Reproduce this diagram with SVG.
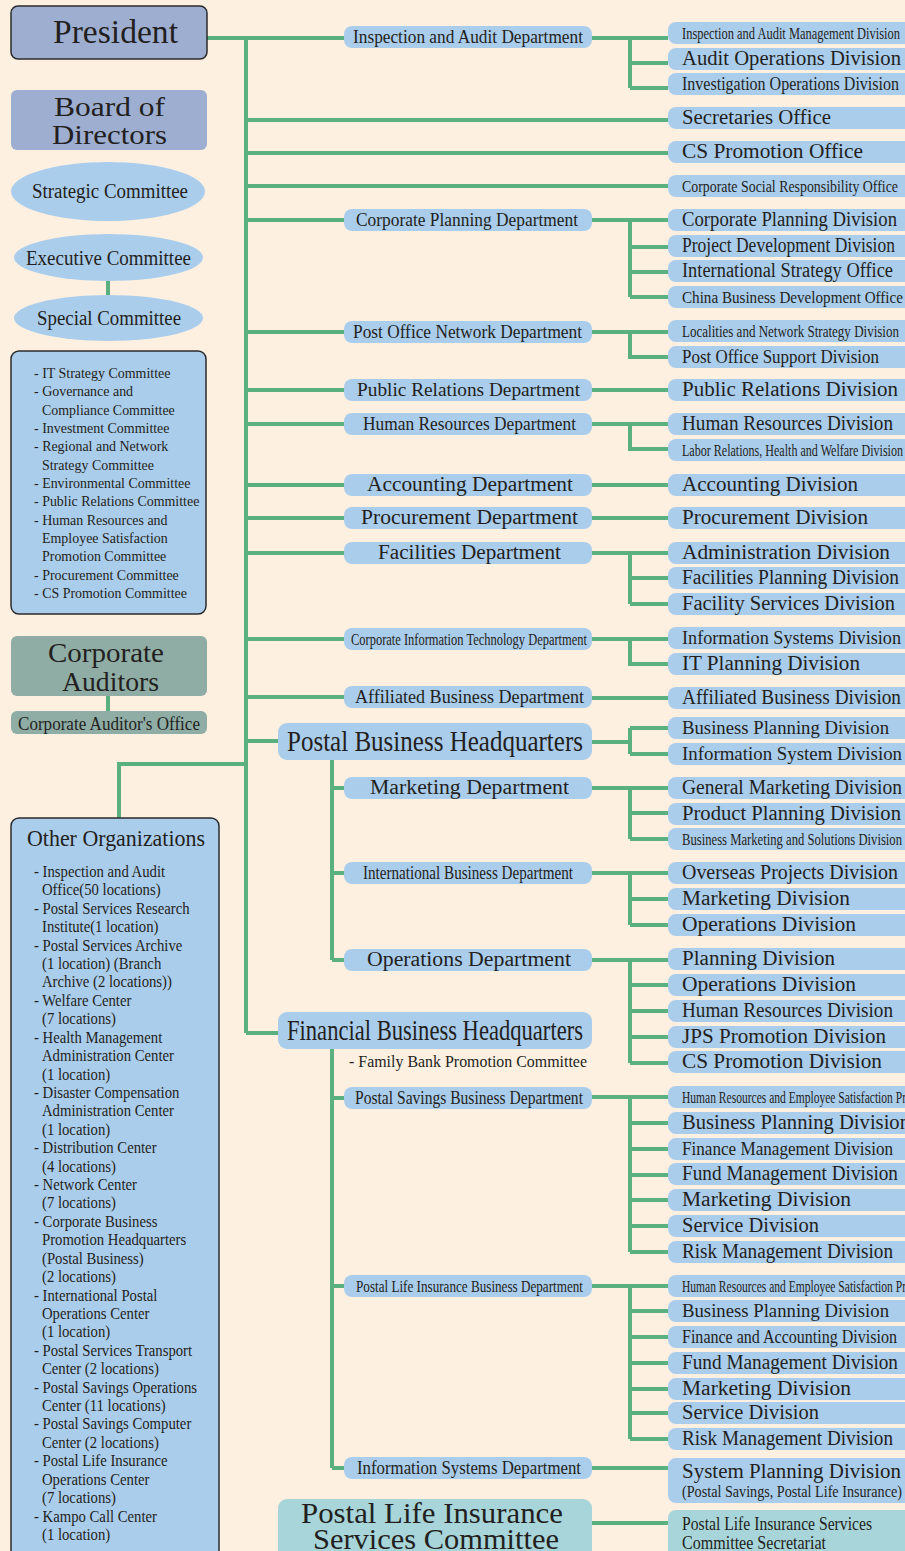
<svg xmlns="http://www.w3.org/2000/svg" xmlns:xlink="http://www.w3.org/1999/xlink" width="905" height="1551" viewBox="0 0 905 1551">
<style>
text{font-family:"Liberation Serif","DejaVu Serif",serif;fill:#231f20}
.ln{stroke:#5bb07f;stroke-width:4;fill:none}
.bx{fill:#abcdec}
.dv{fill:#abcdec}
.pv{fill:#9eaed0}
.au{fill:#8fada5}
.tl{fill:#a8d5d9}
.sk{stroke:#2b2b2b;stroke-width:1.5}
.d{font-size:19px}
.v{font-size:20px}
.s{font-size:17px}
.h{font-size:28px}
.li{font-size:15.5px}
.lo{font-size:16px}
</style>
<defs>
<path id="dvb" d="M676,0H905V22H676A8,8 0 0 1 668,14V8A8,8 0 0 1 676,0Z"/>
</defs>
<rect x="0" y="0" width="905" height="1551" fill="#fdf0e1"/>

<g id="connectors">
<path class="ln" d="M207,38H344M246,38V1033M246,120H668M246,153H668M246,186H668M246,220H344M246,332H344M246,390H344M246,424H344M246,485H344M246,518H344M246,553H344M246,639H344M246,697H344M246,741H278M246,1033H278M246,764H119V818"/>
<path class="ln" d="M108,281V295M108,696V711"/>
<path class="ln" d="M592,38H668M630,38V88M630,63H668M630,88H668"/>
<path class="ln" d="M592,220H668M630,220V297M630,247H668M630,272H668M630,297H668"/>
<path class="ln" d="M592,332H668M630,332V357H668"/>
<path class="ln" d="M592,390H668M592,424H668M630,424V449H668M592,485H668M592,518H668"/>
<path class="ln" d="M592,553H668M630,553V604M630,578H668M630,604H668"/>
<path class="ln" d="M592,639H668M630,639V664H668M592,698H668"/>
<path class="ln" d="M592,742H630M630,728V754M630,728H668M630,754H668"/>
<path class="ln" d="M332,760V960M332,788H344M332,873H344M332,960H344"/>
<path class="ln" d="M592,788H668M630,788V839M630,813H668M630,839H668"/>
<path class="ln" d="M592,873H668M630,873V925M630,899H668M630,925H668"/>
<path class="ln" d="M592,960H668M630,960V1063M630,985H668M630,1011H668M630,1037H668M630,1063H668"/>
<path class="ln" d="M332,1049V1468M332,1098H344M332,1286H344M332,1468H344"/>
<path class="ln" d="M592,1097H668M630,1097V1252M630,1123H668M630,1149H668M630,1175H668M630,1200H668M630,1226H668M630,1252H668"/>
<path class="ln" d="M592,1286H668M630,1286V1439M630,1311H668M630,1337H668M630,1363H668M630,1389H668M630,1413H668M630,1439H668"/>
<path class="ln" d="M592,1468H668M592,1523H668"/>
</g>

<g id="president"><rect class="pv sk" x="11" y="6" width="196" height="53" rx="7"/><text x="53" y="43" font-size="33" textLength="125" lengthAdjust="spacingAndGlyphs">President</text></g>
<g id="board"><rect class="pv" x="11" y="90" width="196" height="60" rx="6"/><text class="h" x="54" y="116" textLength="111" lengthAdjust="spacingAndGlyphs">Board of</text><text class="h" x="52" y="144" textLength="115" lengthAdjust="spacingAndGlyphs">Directors</text></g>
<g id="strategic"><ellipse class="dv" cx="108" cy="191.5" rx="97" ry="29.5"/><text class="v" x="32" y="198" textLength="156" lengthAdjust="spacingAndGlyphs">Strategic Committee</text></g>
<g id="executive"><ellipse class="dv" cx="108.5" cy="257.5" rx="94.5" ry="23.5"/><text class="v" x="26" y="265" textLength="165" lengthAdjust="spacingAndGlyphs">Executive Committee</text></g>
<g id="special"><ellipse class="dv" cx="108.5" cy="318" rx="94.5" ry="23"/><text class="v" x="37" y="325" textLength="144" lengthAdjust="spacingAndGlyphs">Special Committee</text></g>

<g id="committees"><rect class="dv sk" x="11" y="351" width="195" height="263" rx="8"/>
<g class="li" transform="translate(34,0) scale(0.9,1)">
<text x="0" y="378">- IT Strategy Committee</text>
<text x="0" y="396.3">- Governance and</text>
<text x="8.9" y="414.7">Compliance Committee</text>
<text x="0" y="433">- Investment Committee</text>
<text x="0" y="451.3">- Regional and Network</text>
<text x="8.9" y="469.7">Strategy Committee</text>
<text x="0" y="488">- Environmental Committee</text>
<text x="0" y="506.3">- Public Relations Committee</text>
<text x="0" y="524.7">- Human Resources and</text>
<text x="8.9" y="543">Employee Satisfaction</text>
<text x="8.9" y="561.3">Promotion Committee</text>
<text x="0" y="579.7">- Procurement Committee</text>
<text x="0" y="598">- CS Promotion Committee</text>
</g></g>

<g id="auditors"><rect class="au" x="11" y="636" width="196" height="60" rx="6"/><text class="h" x="48" y="662" textLength="116" lengthAdjust="spacingAndGlyphs">Corporate</text><text class="h" x="62" y="691" textLength="97" lengthAdjust="spacingAndGlyphs">Auditors</text></g>
<g id="auditors-office"><rect class="au" x="11" y="711" width="196" height="23" rx="6"/><text x="18" y="730" font-size="18" textLength="182" lengthAdjust="spacingAndGlyphs">Corporate Auditor's Office</text></g>

<g id="other-orgs"><rect class="dv sk" x="11" y="818" width="208" height="745" rx="8"/>
<text x="27" y="846" font-size="24" textLength="178" lengthAdjust="spacingAndGlyphs">Other Organizations</text>
<g class="lo" transform="translate(34,0) scale(0.92,1)">
<text x="0" y="877">- Inspection and Audit</text>
<text x="8.7" y="895.4">Office(50 locations)</text>
<text x="0" y="913.8">- Postal Services Research</text>
<text x="8.7" y="932.3">Institute(1 location)</text>
<text x="0" y="950.7">- Postal Services Archive</text>
<text x="8.7" y="969.1">(1 location) (Branch</text>
<text x="8.7" y="987.5">Archive (2 locations))</text>
<text x="0" y="1005.9">- Welfare Center</text>
<text x="8.7" y="1024.3">(7 locations)</text>
<text x="0" y="1042.8">- Health Management</text>
<text x="8.7" y="1061.2">Administration Center</text>
<text x="8.7" y="1079.6">(1 location)</text>
<text x="0" y="1098">- Disaster Compensation</text>
<text x="8.7" y="1116.4">Administration Center</text>
<text x="8.7" y="1134.8">(1 location)</text>
<text x="0" y="1153.3">- Distribution Center</text>
<text x="8.7" y="1171.7">(4 locations)</text>
<text x="0" y="1190.1">- Network Center</text>
<text x="8.7" y="1208.5">(7 locations)</text>
<text x="0" y="1226.9">- Corporate Business</text>
<text x="8.7" y="1245.3">Promotion Headquarters</text>
<text x="8.7" y="1263.8">(Postal Business)</text>
<text x="8.7" y="1282.2">(2 locations)</text>
<text x="0" y="1300.6">- International Postal</text>
<text x="8.7" y="1319">Operations Center</text>
<text x="8.7" y="1337.4">(1 location)</text>
<text x="0" y="1355.8">- Postal Services Transport</text>
<text x="8.7" y="1374.3">Center (2 locations)</text>
<text x="0" y="1392.7">- Postal Savings Operations</text>
<text x="8.7" y="1411.1">Center (11 locations)</text>
<text x="0" y="1429.5">- Postal Savings Computer</text>
<text x="8.7" y="1447.9">Center (2 locations)</text>
<text x="0" y="1466.3">- Postal Life Insurance</text>
<text x="8.7" y="1484.8">Operations Center</text>
<text x="8.7" y="1503.2">(7 locations)</text>
<text x="0" y="1521.6">- Kampo Call Center</text>
<text x="8.7" y="1540">(1 location)</text>
</g></g>

<g id="dept-inspection"><rect class="bx" x="344" y="26" width="248" height="22" rx="8"/><text class="d" x="353" y="43" textLength="230" lengthAdjust="spacingAndGlyphs">Inspection and Audit Department</text></g>
<g id="dept-corp-planning"><rect class="bx" x="344" y="209" width="248" height="22" rx="8"/><text class="d" x="356" y="226" textLength="222" lengthAdjust="spacingAndGlyphs">Corporate Planning Department</text></g>
<g id="dept-post-office"><rect class="bx" x="344" y="321" width="248" height="22" rx="8"/><text class="d" x="353" y="338" textLength="229" lengthAdjust="spacingAndGlyphs">Post Office Network Department</text></g>
<g id="dept-pr"><rect class="bx" x="344" y="379" width="248" height="22" rx="8"/><text class="d" x="357" y="396" textLength="223" lengthAdjust="spacingAndGlyphs">Public Relations Department</text></g>
<g id="dept-hr"><rect class="bx" x="344" y="413" width="248" height="22" rx="8"/><text class="d" x="363" y="430" textLength="213" lengthAdjust="spacingAndGlyphs">Human Resources Department</text></g>
<g id="dept-accounting"><rect class="bx" x="344" y="474" width="248" height="22" rx="8"/><text class="v" x="367" y="491" textLength="206" lengthAdjust="spacingAndGlyphs">Accounting Department</text></g>
<g id="dept-procurement"><rect class="bx" x="344" y="507" width="248" height="22" rx="8"/><text class="v" x="361" y="524" textLength="217" lengthAdjust="spacingAndGlyphs">Procurement Department</text></g>
<g id="dept-facilities"><rect class="bx" x="344" y="542" width="248" height="22" rx="8"/><text class="v" x="378" y="559" textLength="183" lengthAdjust="spacingAndGlyphs">Facilities Department</text></g>
<g id="dept-corp-it"><rect class="bx" x="344" y="628" width="248" height="22" rx="8"/><text class="s" x="351" y="645" textLength="236" lengthAdjust="spacingAndGlyphs">Corporate Information Technology Department</text></g>
<g id="dept-affiliated"><rect class="bx" x="344" y="686" width="248" height="22" rx="8"/><text class="d" x="355" y="703" textLength="229" lengthAdjust="spacingAndGlyphs">Affiliated Business Department</text></g>

<g id="postal-hq"><rect class="bx" x="278" y="723" width="314" height="37" rx="9"/><text x="287" y="751" font-size="30" textLength="296" lengthAdjust="spacingAndGlyphs">Postal Business Headquarters</text></g>
<g id="dept-marketing"><rect class="bx" x="344" y="777" width="248" height="22" rx="8"/><text class="v" x="370" y="794" textLength="199" lengthAdjust="spacingAndGlyphs">Marketing Department</text></g>
<g id="dept-intl"><rect class="bx" x="344" y="862" width="248" height="22" rx="8"/><text class="d" x="363" y="879" textLength="210" lengthAdjust="spacingAndGlyphs">International Business Department</text></g>
<g id="dept-operations"><rect class="bx" x="344" y="949" width="248" height="22" rx="8"/><text class="v" x="367" y="966" textLength="204" lengthAdjust="spacingAndGlyphs">Operations Department</text></g>

<g id="financial-hq"><rect class="bx" x="278" y="1012" width="314" height="37" rx="9"/><text x="287" y="1040" font-size="30" textLength="296" lengthAdjust="spacingAndGlyphs">Financial Business Headquarters</text><text x="349" y="1067" font-size="17" textLength="238" lengthAdjust="spacingAndGlyphs">- Family Bank Promotion Committee</text></g>
<g id="dept-postal-savings"><rect class="bx" x="344" y="1087" width="248" height="22" rx="8"/><text class="d" x="355" y="1104" textLength="228" lengthAdjust="spacingAndGlyphs">Postal Savings Business Department</text></g>
<g id="dept-postal-life"><rect class="bx" x="344" y="1275" width="248" height="22" rx="8"/><text class="s" x="356" y="1292" textLength="227" lengthAdjust="spacingAndGlyphs">Postal Life Insurance Business Department</text></g>
<g id="dept-info-sys"><rect class="bx" x="344" y="1457" width="248" height="22" rx="8"/><text class="d" x="357" y="1474" textLength="224" lengthAdjust="spacingAndGlyphs">Information Systems Department</text></g>
<g id="plisc"><rect class="tl" x="278" y="1499" width="314" height="70" rx="9"/><text x="301" y="1523" font-size="29" textLength="262" lengthAdjust="spacingAndGlyphs">Postal Life Insurance</text><text x="313" y="1549" font-size="29" textLength="246" lengthAdjust="spacingAndGlyphs">Services Committee</text></g>

<g id="div-1"><use class="dv" xlink:href="#dvb" y="22"/><text class="s" x="682" y="39" textLength="218" lengthAdjust="spacingAndGlyphs">Inspection and Audit Management Division</text></g>
<g id="div-2"><use class="dv" xlink:href="#dvb" y="48"/><text class="v" x="682" y="65" textLength="219" lengthAdjust="spacingAndGlyphs">Audit Operations Division</text></g>
<g id="div-3"><use class="dv" xlink:href="#dvb" y="73"/><text class="d" x="682" y="90" textLength="217" lengthAdjust="spacingAndGlyphs">Investigation Operations Division</text></g>
<g id="div-4"><use class="dv" xlink:href="#dvb" y="107"/><text class="v" x="682" y="124" textLength="149" lengthAdjust="spacingAndGlyphs">Secretaries Office</text></g>
<g id="div-5"><use class="dv" xlink:href="#dvb" y="141"/><text class="v" x="682" y="158" textLength="181" lengthAdjust="spacingAndGlyphs">CS Promotion Office</text></g>
<g id="div-6"><use class="dv" xlink:href="#dvb" y="175"/><text class="s" x="682" y="192" textLength="216" lengthAdjust="spacingAndGlyphs">Corporate Social Responsibility Office</text></g>
<g id="div-7"><use class="dv" xlink:href="#dvb" y="209"/><text class="v" x="682" y="226" textLength="215" lengthAdjust="spacingAndGlyphs">Corporate Planning Division</text></g>
<g id="div-8"><use class="dv" xlink:href="#dvb" y="235"/><text class="v" x="682" y="252" textLength="213" lengthAdjust="spacingAndGlyphs">Project Development Division</text></g>
<g id="div-9"><use class="dv" xlink:href="#dvb" y="260"/><text class="v" x="682" y="277" textLength="211" lengthAdjust="spacingAndGlyphs">International Strategy Office</text></g>
<g id="div-10"><use class="dv" xlink:href="#dvb" y="286"/><text class="s" x="682" y="303" textLength="221" lengthAdjust="spacingAndGlyphs">China Business Development Office</text></g>
<g id="div-11"><use class="dv" xlink:href="#dvb" y="320"/><text class="s" x="682" y="337" textLength="217" lengthAdjust="spacingAndGlyphs">Localities and Network Strategy Division</text></g>
<g id="div-12"><use class="dv" xlink:href="#dvb" y="346"/><text class="d" x="682" y="363" textLength="197" lengthAdjust="spacingAndGlyphs">Post Office Support Division</text></g>
<g id="div-13"><use class="dv" xlink:href="#dvb" y="379"/><text class="v" x="682" y="396" textLength="216" lengthAdjust="spacingAndGlyphs">Public Relations Division</text></g>
<g id="div-14"><use class="dv" xlink:href="#dvb" y="413"/><text class="v" x="682" y="430" textLength="211" lengthAdjust="spacingAndGlyphs">Human Resources Division</text></g>
<g id="div-15"><use class="dv" xlink:href="#dvb" y="439"/><text class="s" x="682" y="456" textLength="221" lengthAdjust="spacingAndGlyphs">Labor Relations, Health and Welfare Division</text></g>
<g id="div-16"><use class="dv" xlink:href="#dvb" y="474"/><text class="v" x="682" y="491" textLength="176" lengthAdjust="spacingAndGlyphs">Accounting Division</text></g>
<g id="div-17"><use class="dv" xlink:href="#dvb" y="507"/><text class="v" x="682" y="524" textLength="186" lengthAdjust="spacingAndGlyphs">Procurement Division</text></g>
<g id="div-18"><use class="dv" xlink:href="#dvb" y="542"/><text class="v" x="682" y="559" textLength="208" lengthAdjust="spacingAndGlyphs">Administration Division</text></g>
<g id="div-19"><use class="dv" xlink:href="#dvb" y="567"/><text class="v" x="682" y="584" textLength="217" lengthAdjust="spacingAndGlyphs">Facilities Planning Division</text></g>
<g id="div-20"><use class="dv" xlink:href="#dvb" y="593"/><text class="v" x="682" y="610" textLength="213" lengthAdjust="spacingAndGlyphs">Facility Services Division</text></g>
<g id="div-21"><use class="dv" xlink:href="#dvb" y="627"/><text class="d" x="682" y="644" textLength="219" lengthAdjust="spacingAndGlyphs">Information Systems Division</text></g>
<g id="div-22"><use class="dv" xlink:href="#dvb" y="653"/><text class="v" x="682" y="670" textLength="178" lengthAdjust="spacingAndGlyphs">IT Planning Division</text></g>
<g id="div-23"><use class="dv" xlink:href="#dvb" y="687"/><text class="v" x="682" y="704" textLength="219" lengthAdjust="spacingAndGlyphs">Affiliated Business Division</text></g>
<g id="div-24"><use class="dv" xlink:href="#dvb" y="717"/><text class="d" x="682" y="734" textLength="207" lengthAdjust="spacingAndGlyphs">Business Planning Division</text></g>
<g id="div-25"><use class="dv" xlink:href="#dvb" y="743"/><text class="d" x="682" y="760" textLength="220" lengthAdjust="spacingAndGlyphs">Information System Division</text></g>
<g id="div-26"><use class="dv" xlink:href="#dvb" y="777"/><text class="v" x="682" y="794" textLength="220" lengthAdjust="spacingAndGlyphs">General Marketing Division</text></g>
<g id="div-27"><use class="dv" xlink:href="#dvb" y="803"/><text class="v" x="682" y="820" textLength="219" lengthAdjust="spacingAndGlyphs">Product Planning Division</text></g>
<g id="div-28"><use class="dv" xlink:href="#dvb" y="828"/><text class="s" x="682" y="845" textLength="220" lengthAdjust="spacingAndGlyphs">Business Marketing and Solutions Division</text></g>
<g id="div-29"><use class="dv" xlink:href="#dvb" y="862"/><text class="v" x="682" y="879" textLength="216" lengthAdjust="spacingAndGlyphs">Overseas Projects Division</text></g>
<g id="div-30"><use class="dv" xlink:href="#dvb" y="888"/><text class="v" x="682" y="905" textLength="168" lengthAdjust="spacingAndGlyphs">Marketing Division</text></g>
<g id="div-31"><use class="dv" xlink:href="#dvb" y="914"/><text class="v" x="682" y="931" textLength="174" lengthAdjust="spacingAndGlyphs">Operations Division</text></g>
<g id="div-32"><use class="dv" xlink:href="#dvb" y="948"/><text class="v" x="682" y="965" textLength="153" lengthAdjust="spacingAndGlyphs">Planning Division</text></g>
<g id="div-33"><use class="dv" xlink:href="#dvb" y="974"/><text class="v" x="682" y="991" textLength="174" lengthAdjust="spacingAndGlyphs">Operations Division</text></g>
<g id="div-34"><use class="dv" xlink:href="#dvb" y="1000"/><text class="v" x="682" y="1017" textLength="211" lengthAdjust="spacingAndGlyphs">Human Resources Division</text></g>
<g id="div-35"><use class="dv" xlink:href="#dvb" y="1026"/><text class="v" x="682" y="1043" textLength="204" lengthAdjust="spacingAndGlyphs">JPS Promotion Division</text></g>
<g id="div-36"><use class="dv" xlink:href="#dvb" y="1051"/><text class="v" x="682" y="1068" textLength="200" lengthAdjust="spacingAndGlyphs">CS Promotion Division</text></g>
<g id="div-37"><use class="dv" xlink:href="#dvb" y="1086"/><text class="s" x="682" y="1103" textLength="224" lengthAdjust="spacingAndGlyphs">Human Resources and Employee Satisfaction Pr</text></g>
<g id="div-38"><use class="dv" xlink:href="#dvb" y="1112"/><text x="682" y="1129" font-size="21" textLength="228" lengthAdjust="spacingAndGlyphs">Business Planning Division</text></g>
<g id="div-39"><use class="dv" xlink:href="#dvb" y="1138"/><text class="d" x="682" y="1155" textLength="211" lengthAdjust="spacingAndGlyphs">Finance Management Division</text></g>
<g id="div-40"><use class="dv" xlink:href="#dvb" y="1163"/><text class="v" x="682" y="1180" textLength="216" lengthAdjust="spacingAndGlyphs">Fund Management Division</text></g>
<g id="div-41"><use class="dv" xlink:href="#dvb" y="1189"/><text class="v" x="682" y="1206" textLength="169" lengthAdjust="spacingAndGlyphs">Marketing Division</text></g>
<g id="div-42"><use class="dv" xlink:href="#dvb" y="1215"/><text class="v" x="682" y="1232" textLength="137" lengthAdjust="spacingAndGlyphs">Service Division</text></g>
<g id="div-43"><use class="dv" xlink:href="#dvb" y="1241"/><text class="v" x="682" y="1258" textLength="211" lengthAdjust="spacingAndGlyphs">Risk Management Division</text></g>
<g id="div-44"><use class="dv" xlink:href="#dvb" y="1275"/><text class="s" x="682" y="1292" textLength="224" lengthAdjust="spacingAndGlyphs">Human Resources and Employee Satisfaction Pr</text></g>
<g id="div-45"><use class="dv" xlink:href="#dvb" y="1300"/><text class="d" x="682" y="1317" textLength="207" lengthAdjust="spacingAndGlyphs">Business Planning Division</text></g>
<g id="div-46"><use class="dv" xlink:href="#dvb" y="1326"/><text class="d" x="682" y="1343" textLength="215" lengthAdjust="spacingAndGlyphs">Finance and Accounting Division</text></g>
<g id="div-47"><use class="dv" xlink:href="#dvb" y="1352"/><text class="v" x="682" y="1369" textLength="216" lengthAdjust="spacingAndGlyphs">Fund Management Division</text></g>
<g id="div-48"><use class="dv" xlink:href="#dvb" y="1378"/><text class="v" x="682" y="1395" textLength="169" lengthAdjust="spacingAndGlyphs">Marketing Division</text></g>
<g id="div-49"><use class="dv" xlink:href="#dvb" y="1402"/><text class="v" x="682" y="1419" textLength="137" lengthAdjust="spacingAndGlyphs">Service Division</text></g>
<g id="div-50"><use class="dv" xlink:href="#dvb" y="1428"/><text class="v" x="682" y="1445" textLength="211" lengthAdjust="spacingAndGlyphs">Risk Management Division</text></g>
<g id="div-51"><path class="dv" d="M676,1458H905V1503H676A8,8 0 0 1 668,1495V1466A8,8 0 0 1 676,1458Z"/><text class="v" x="682" y="1478" textLength="219" lengthAdjust="spacingAndGlyphs">System Planning Division</text><text class="s" x="682" y="1497" textLength="220" lengthAdjust="spacingAndGlyphs">(Postal Savings, Postal Life Insurance)</text></g>
<g id="div-52"><path class="tl" d="M676,1510H905V1551H668V1518A8,8 0 0 1 676,1510Z"/><text x="682" y="1530" font-size="18" textLength="190" lengthAdjust="spacingAndGlyphs">Postal Life Insurance Services</text><text x="682" y="1549" font-size="18" textLength="144" lengthAdjust="spacingAndGlyphs">Committee Secretariat</text></g>
</svg>
